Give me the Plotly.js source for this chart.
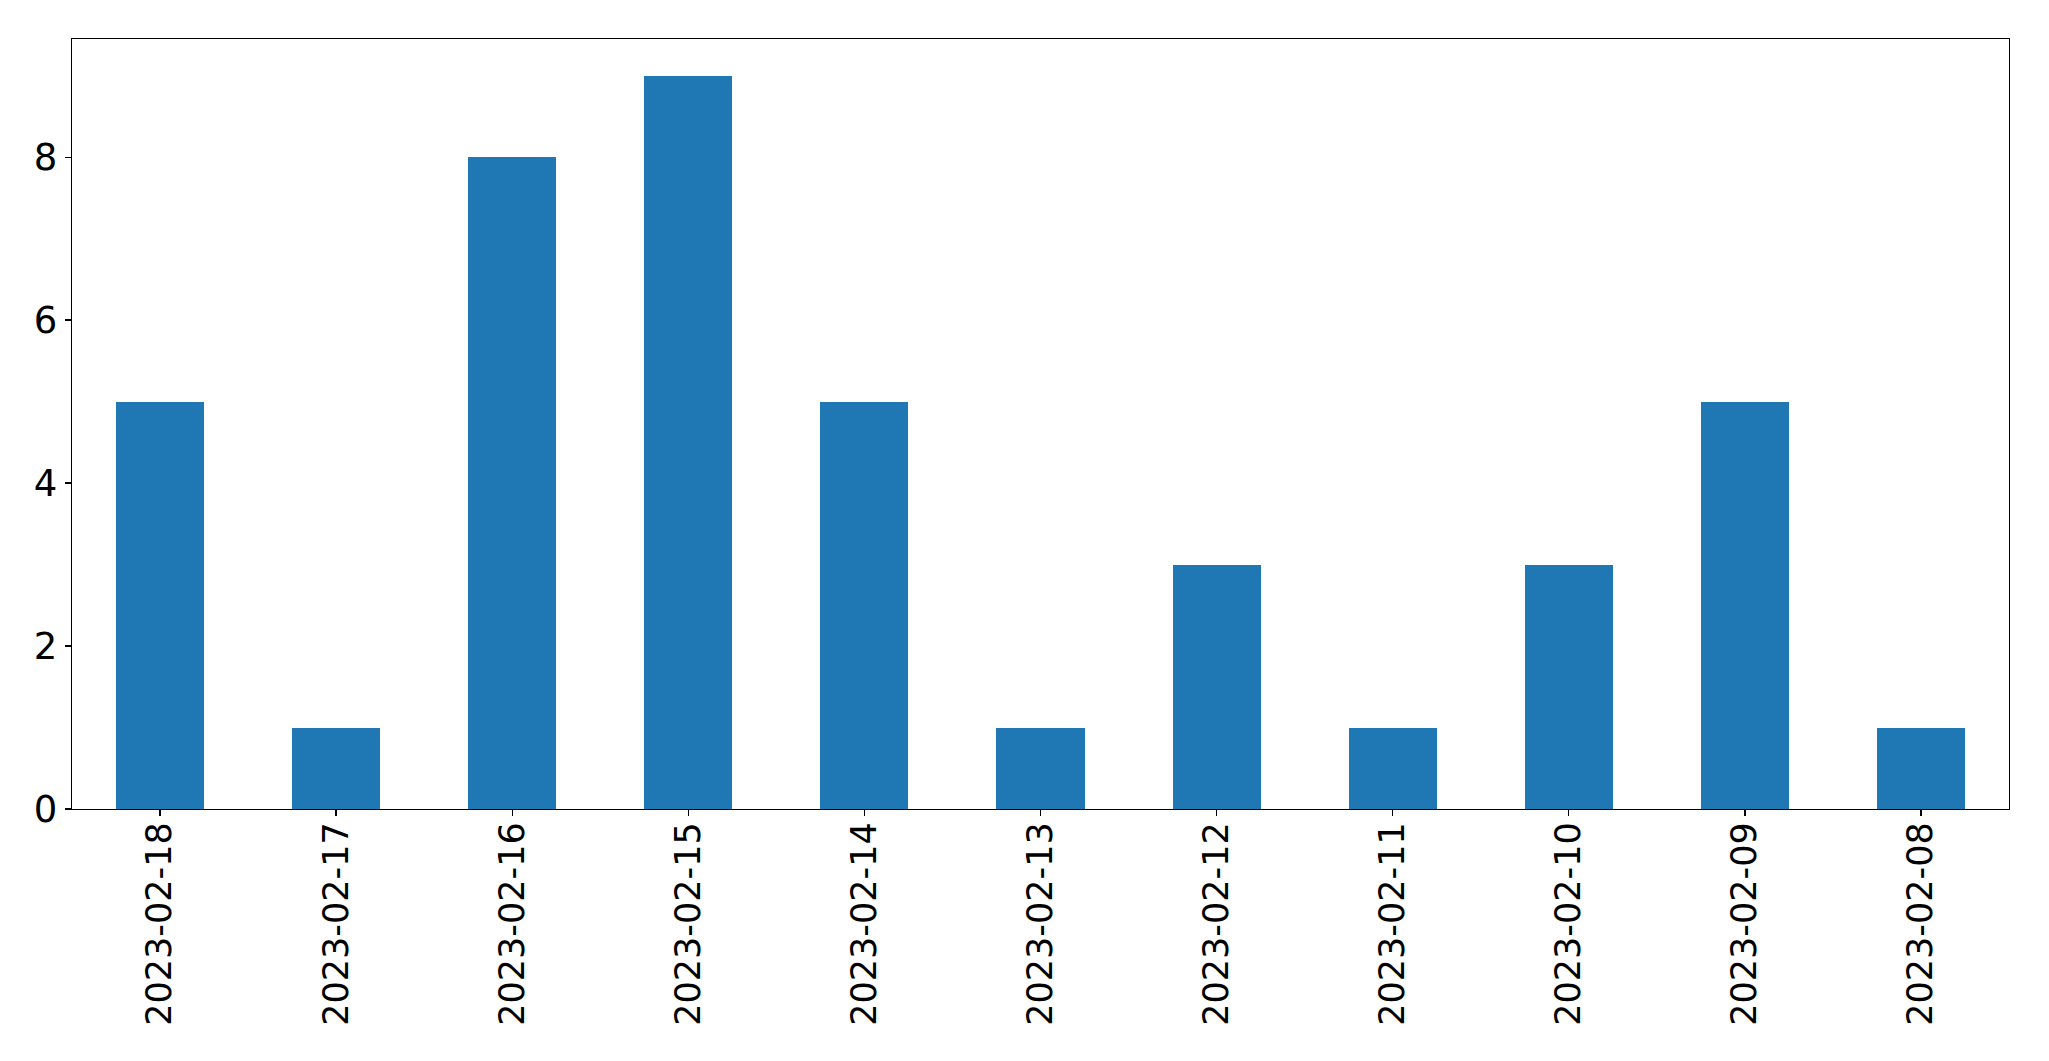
<!DOCTYPE html>
<html>
<head>
<meta charset="utf-8">
<script src="https://cdn.plot.ly/plotly-3.0.1.min.js"></script>
<style>html,body{margin:0;padding:0;background:#fff;}#chart{width:2049px;height:1061px;}</style>
</head>
<body>
<div id="chart"></div>
<script>
const dates = ["2023-02-18","2023-02-17","2023-02-16","2023-02-15","2023-02-14","2023-02-13","2023-02-12","2023-02-11","2023-02-10","2023-02-09","2023-02-08"];
const counts = [5, 1, 8, 9, 5, 1, 3, 1, 3, 5, 1];
const yTicks = [0, 2, 4, 6, 8];

const trace = {
  type: 'bar',
  x: dates,
  y: counts,
  width: 0.5,
  marker: {color: '#1f77b4', line: {width: 0}},
  hoverinfo: 'x+y'
};

const layout = {
  width: 2049,
  height: 1061,
  margin: {l: 72, r: 40, t: 39, b: 252, pad: 0},
  paper_bgcolor: '#fff',
  plot_bgcolor: '#fff',
  showlegend: false,
  font: {family: 'DejaVu Sans', size: 36, color: '#000'},
  bargap: 0,
  xaxis: {
    type: 'category',
    range: [-0.5, 10.5],
    tickangle: -90,
    ticks: 'outside',
    ticklen: 6,
    tickwidth: 1.3,
    tickcolor: '#000',
    ticklabelstandoff: -8,
    showline: true,
    linecolor: '#000',
    linewidth: 1.3,
    mirror: true,
    showgrid: false,
    zeroline: false,
    tickfont: {family: 'DejaVu Sans', size: 35, color: '#000'}
  },
  yaxis: {
    range: [0, 9.45],
    tickvals: yTicks,
    ticktext: yTicks.map(String),
    ticks: 'outside',
    ticklen: 6,
    tickwidth: 1.3,
    tickcolor: '#000',
    showline: true,
    linecolor: '#000',
    linewidth: 1.3,
    mirror: true,
    showgrid: false,
    zeroline: false,
    tickfont: {family: 'DejaVu Sans', size: 37, color: '#000'}
  }
};

Plotly.newPlot('chart', [trace], layout, {displayModeBar: false, staticPlot: true});
</script>
</body>
</html>
